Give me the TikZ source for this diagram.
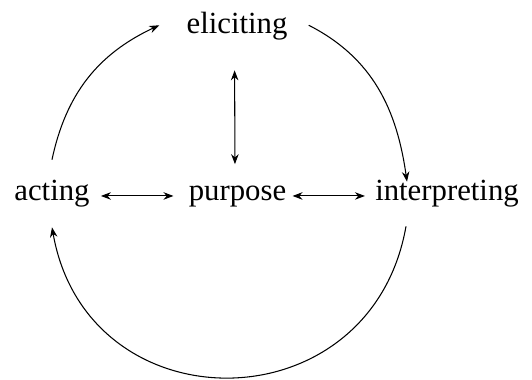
\documentclass[tikz,border=0pt]{standalone}
\usepackage{fontspec}
\setmainfont{Liberation Serif}
\usetikzlibrary{arrows.meta, positioning}

\tikzset{
  phase/.style={inner sep=0pt, text height=0.45cm, text depth=0.14cm,
    font=\fontsize{17.5}{20}\selectfont, anchor=base},
  link/.style={line width=0.6pt, -{Stealth[length=2mm, width=1.5mm]}},
  twoway/.style={line width=0.6pt,
    {Stealth[length=2mm, width=1.5mm]}-{Stealth[length=2mm, width=1.5mm]}}
}

\begin{document}
\begin{tikzpicture}
    \useasboundingbox (0,0) rectangle (10.64,7.58);

    % Phases of the cycle
    \node[phase] (eliciting) at (4.74,6.92) {eliciting};
    \node[phase] (acting) at (1.04,3.58) {acting};
    \node[phase] (purpose) at (4.75,3.58) {purpose};
    \node[phase] (interpreting) at (8.94,3.58) {interpreting};

    % Links to the purpose
    \draw[twoway, shorten <=0.6cm, shorten >=0.26cm] ([xshift=-0.05cm]eliciting.south) -- ([xshift=-0.05cm]purpose.north);
    \draw[twoway, shorten <=0.22cm, shorten >=0.3cm] (acting.mid east) -- (purpose.mid west);
    \draw[twoway, shorten <=0.12cm, shorten >=0.2cm] (purpose.mid east) -- (interpreting.mid west);

    % Outer cycle
    \draw[link] ([yshift=0.35cm]acting.north) to[out=78, in=205] ([xshift=-0.54cm]eliciting.west);
    \draw[link] ([xshift=0.42cm]eliciting.east) to[out=-27, in=98] ([xshift=-0.8cm, yshift=-0.09cm]interpreting.north);
    \draw[link] ([xshift=-0.82cm, yshift=-0.38cm]interpreting.south) to[out=-100, in=-80, looseness=1.47] ([yshift=-0.4cm]acting.south);
\end{tikzpicture}
\end{document}
